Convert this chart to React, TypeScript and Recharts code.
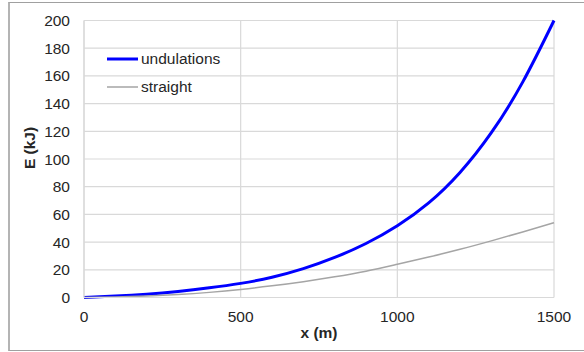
import { LineChart, Line, XAxis, YAxis, CartesianGrid, Legend } from "recharts"

const distance = [0, 100, 200, 300, 400, 500, 600, 700, 800, 900, 1000, 1100, 1200, 1300, 1400, 1500]
const undulations = [0, 1.0, 2.4, 4.4, 7.0, 10.2, 14.6, 20.8, 28.9, 39.0, 51.8, 68.3, 90.3, 119.0, 155.5, 200]
const straight = [0, 0.3, 1.0, 2.1, 3.7, 5.8, 8.4, 11.4, 14.9, 19.0, 24.0, 29.2, 34.8, 40.9, 47.3, 54.0]
const seriesOrder = ["undulations", "straight"]
const xTicks = [0, 500, 1000, 1500]
const yTicks = [0, 20, 40, 60, 80, 100, 120, 140, 160, 180, 200]

const data = distance.map((x, i) => ({
  x,
  undulations: undulations[i],
  straight: straight[i],
}))

const font = "'Liberation Sans', Arial, sans-serif"
const textColor = "#262626"

const renderLegend = (props: any) => {
  const items = [...(props.payload || [])].sort(
    (a: any, b: any) => seriesOrder.indexOf(a.value) - seriesOrder.indexOf(b.value)
  )
  return (
    <div style={{ fontFamily: font, fontSize: 15.5, color: textColor }}>
      {items.map((entry: any) => (
        <div key={entry.value} style={{ display: "flex", alignItems: "center", height: 28 }}>
          <svg width={31} height={6}>
            <line
              x1={0}
              x2={31}
              y1={3}
              y2={3}
              stroke={entry.color}
              strokeWidth={entry.payload?.strokeWidth ?? 2}
            />
          </svg>
          <span style={{ marginLeft: 3 }}>{entry.value}</span>
        </div>
      ))}
    </div>
  )
}

const renderYLabel = (props: any) => {
  const { viewBox } = props
  const cx = viewBox.x + 29
  const cy = viewBox.y + viewBox.height / 2 - 11
  return (
    <text
      x={cx}
      y={cy}
      transform={`rotate(-90, ${cx}, ${cy})`}
      textAnchor="middle"
      dominantBaseline="central"
      fill={textColor}
      fontSize={15.5}
      fontWeight="bold"
      fontFamily={font}
    >
      E (kJ)
    </text>
  )
}

export default function App() {
  return (
    <div
      style={{
        position: "absolute",
        left: 0,
        top: 0,
        width: 584,
        height: 352,
        overflow: "hidden",
        background: "#fff",
      }}
    >
      {/* outer frame, right side runs off the picture */}
      <div
        style={{
          position: "absolute",
          left: 8,
          top: 2,
          width: 620,
          height: 347,
          borderTop: "1px solid #a0a0a0",
          borderBottom: "1px solid #a0a0a0",
          borderLeft: "2px solid #b4b4b4",
        }}
      />
      <LineChart
        width={584}
        height={352}
        data={data}
        margin={{ top: 20.5, right: 30, bottom: 0, left: 0 }}
        style={{ position: "absolute", left: 0, top: 0 }}
      >
        <CartesianGrid stroke="#d9d9d9" strokeWidth={1.2} />
        <XAxis
          dataKey="x"
          type="number"
          domain={[0, 1500]}
          ticks={xTicks}
          height={54.5}
          stroke="#d9d9d9"
          strokeWidth={1.2}
          tickLine={false}
          tickSize={0}
          tickMargin={13}
          tick={{ fill: textColor, fontSize: 15.5, fontFamily: font }}
          label={{
            value: "x (m)",
            position: "insideBottom",
            offset: 14.5,
            fill: textColor,
            fontSize: 15.5,
            fontWeight: "bold",
            fontFamily: font,
          }}
        />
        <YAxis
          type="number"
          domain={[0, 200]}
          ticks={yTicks}
          width={84}
          stroke="#d9d9d9"
          strokeWidth={1.2}
          tickLine={false}
          tickSize={0}
          tickMargin={14}
          tick={{ fill: textColor, fontSize: 15.5, fontFamily: font }}
          label={renderYLabel}
        />
        <Legend
          layout="vertical"
          align="center"
          verticalAlign="middle"
          content={renderLegend}
          wrapperStyle={{ left: 107, top: 45, width: "auto" }}
        />
        <Line
          type="natural"
          dataKey="undulations"
          stroke="#0000ff"
          strokeWidth={3}
          dot={false}
          isAnimationActive={false}
        />
        <Line
          type="natural"
          dataKey="straight"
          stroke="#a5a5a5"
          strokeWidth={1.5}
          dot={false}
          isAnimationActive={false}
        />
      </LineChart>
    </div>
  )
}
